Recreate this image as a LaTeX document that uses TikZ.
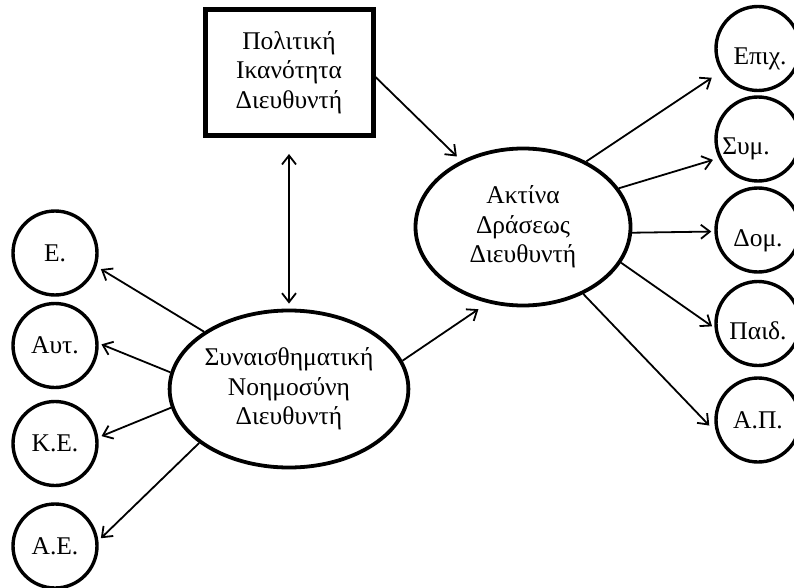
\documentclass[tikz,border=0pt]{standalone}
\usepackage{fontspec}
\setmainfont{Liberation Serif}
\usetikzlibrary{arrows.meta,shapes.geometric}
\begin{document}
\begin{tikzpicture}[x=1pt,y=-1pt,
  every node/.style={font=\fontsize{25.5}{29.5}\selectfont, align=center, inner sep=0pt},
  oval/.style={ellipse, draw, line width=3.8pt, minimum width=215pt, minimum height=157pt},
  roundnode/.style={circle, draw, line width=3.4pt, minimum size=84pt},
  lowtext/.style={text height=32pt, text depth=0pt},
  frame/.style={rectangle, draw, line width=5pt, minimum width=168pt, minimum height=126pt},
  arr/.style={line width=1.8pt, -{Straight Barb[length=9pt,width=14pt,line width=1.8pt]}},
  arrboth/.style={line width=1.8pt, {Straight Barb[length=9pt,width=14pt,line width=1.8pt]}-{Straight Barb[length=9pt,width=14pt,line width=1.8pt]}},
]
\useasboundingbox[fill=white] (0,0) rectangle (794,588);

% central constructs
\node[frame] (box) at (289,72.5) {Πολιτική\\Ικανότητα\\Διευθυντή};
\node[oval] (R) at (523,227) {Ακτίνα\\Δράσεως\\Διευθυντή};
\node[oval] (L) at (289,389) {Συναισθηματική\\Νοημοσύνη\\Διευθυντή};

% indicators on the right
\node[roundnode, lowtext] (epix) at (758,48.5) {\hspace*{4pt}Επιχ.};
\node[roundnode, lowtext] (sym)  at (758,139) {Συμ.\hspace*{24pt}};
\node[roundnode, lowtext] (dom)  at (758,230) {Δομ.};
\node[roundnode, lowtext] (paid) at (758,323.5) {Παιδ.};
\node[roundnode] (ap)   at (758,420) {Α.Π.};

% indicators on the left
\node[roundnode] (e)   at (55,253) {Ε.};
\node[roundnode] (aut) at (55,345.5) {Αυτ.};
\node[roundnode] (ke)  at (55,443.5) {Κ.Ε.};
\node[roundnode] (ae)  at (55,546) {Α.Ε.};

% structural paths
\draw[arr, shorten >=6pt] (box.-3) -- (R.133);
\draw[arrboth, shorten <=16pt, shorten >=5pt] (box.south) -- (L.north);
\draw[arr, shorten >=11pt] (L.14.7) -- (R.245);

% loadings of the right construct
\draw[arr, shorten >=11pt] (R.46) -- (epix.212);
\draw[arr, shorten >=6pt] (R.22) -- (sym.206);
\draw[arr, shorten >=3pt] (R.-3) -- (dom.182);
\draw[arr, shorten >=3pt] (R.-20.5) -- (paid.186);
\draw[arr, shorten >=10pt] (R.-48) -- (ap.197);

% loadings of the left construct
\draw[arr, shorten >=5pt] (L.146) -- (e.-18);
\draw[arr, shorten >=3pt] (L.172) -- (aut.3);
\draw[arr, shorten >=3.5pt] (L.189) -- (ke.8);
\draw[arr, shorten >=3.5pt] (L.211.5) -- (ae.7.6);
\end{tikzpicture}
\end{document}
